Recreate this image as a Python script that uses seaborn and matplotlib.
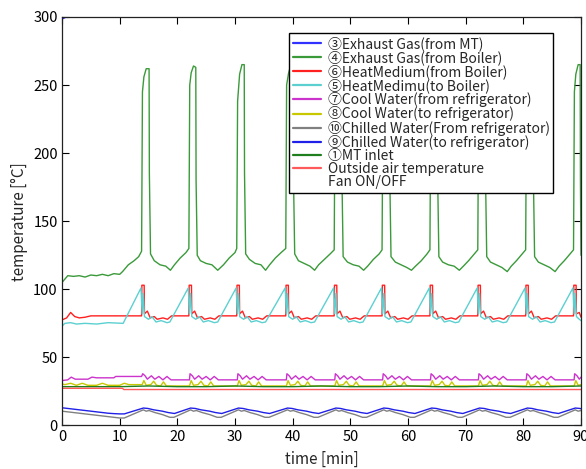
import matplotlib
matplotlib.use("Agg")
import matplotlib.pyplot as plt
from matplotlib.lines import Line2D
import seaborn as sns

# ---------------- data ----------------
labels = ["③Exhaust Gas(from MT)", "④Exhaust Gas(from Boiler)", "⑥HeatMedium(from Boiler)",
          "⑤HeatMedimu(to Boiler)", "⑦Cool Water(from refrigerator)", "⑧Cool Water(to refrigerator)",
          "⑩Chilled Water(From refrigerator)", "⑨Chilled Water(to refrigerator)", "①MT inlet",
          "Outside air temperature", "Fan ON/OFF"]
colors = ["#3030ff", "#3a9a3a", "#ff2020", "#5cd0d0", "#cc33cc", "#c8c800",
          "#808080", "#2020e8", "#1f7f1f", "#ff5a5a"]

t_exh_mt = [0, 0.5, 1.0, 2.0, 90]
v_exh_mt = [298.5, 299.5, 301, 310, 310]

t_exh_boiler = [0, 0.4, 1, 2, 3, 4, 5, 6, 7, 8, 9, 10, 10.5, 11.5, 12.5, 13.3, 13.8,
                13.95, 14.2, 14.6, 15.1, 15.15, 15.35, 16, 17, 18, 18.8, 19.5, 20.5, 21.5, 22.0,
                22.15, 22.4, 22.8, 23.2, 23.25, 23.45, 24, 25, 26, 27, 28, 29, 30, 30.3,
                30.45, 30.8, 31.2, 31.6, 31.65, 31.85, 32.5, 33.5, 34.5, 35.3, 36, 37, 38, 38.8,
                38.95, 39.3, 39.7, 40.1, 40.15, 40.35, 41, 42, 43, 43.8, 44.5, 45.5, 46.5, 47.2,
                47.35, 47.6, 48, 48.5, 48.55, 48.75, 49.5, 50.5, 51.5, 52.3, 53, 54, 55, 55.5,
                55.65, 55.9, 56.3, 56.8, 56.85, 57.05, 57.8, 58.8, 59.8, 60.6, 61.3, 62.3, 63.3, 63.8,
                63.95, 64.2, 64.6, 65.1, 65.15, 65.35, 66, 67, 68, 68.9, 69.6, 70.5, 71.5, 72.1,
                72.25, 72.5, 72.9, 73.4, 73.45, 73.65, 74.3, 75.3, 76.3, 77.2, 77.9, 78.8, 79.8, 80.4,
                80.55, 80.8, 81.2, 81.7, 81.75, 81.95, 82.6, 83.6, 84.6, 85.5, 86.2, 87.1, 88.1, 88.7,
                88.85, 89.1, 89.5, 89.85, 89.9, 90]
v_exh_boiler = [105, 107, 110, 109.5, 110, 109, 110.5, 110, 111, 110, 111.5, 111, 113, 118, 121, 124, 128,
                245, 256, 262, 262, 185, 126, 121, 118, 117, 114, 118, 123, 127, 130,
                250, 259, 264, 263, 180, 125, 121, 119, 118, 114, 118, 123, 127, 130,
                238, 258, 265, 265, 185, 126, 122, 119, 118, 114, 118, 123, 127, 130,
                250, 259, 265, 265, 180, 126, 121, 119, 117, 114, 118, 122, 126, 129,
                245, 255, 261, 261, 180, 124, 120, 118, 117, 114, 117, 122, 126, 129,
                245, 255, 259, 259, 180, 124, 120, 118, 116, 114, 117, 121, 126, 129,
                245, 255, 261, 261, 180, 124, 120, 118, 117, 114, 117, 121, 126, 129,
                245, 256, 261, 261, 180, 124, 120, 118, 116, 113, 117, 121, 126, 129,
                245, 256, 262, 262, 180, 124, 120, 118, 116, 113, 117, 121, 126, 129,
                245, 258, 265, 265, 180, 125]

t_hm_out = [0, 0.8, 1.5, 2.2, 3, 4, 5, 13.8,
            13.85, 14.25, 14.3, 14.8, 15.3, 16.0, 16.5, 17.5, 18.3, 19.0, 22.0,
            22.05, 22.45, 22.5, 23.0, 23.5, 24.2, 24.7, 25.7, 26.5, 27.2, 30.3,
            30.35, 30.75, 30.8, 31.3, 31.8, 32.5, 33.0, 34.0, 34.8, 35.5, 38.8,
            38.85, 39.25, 39.3, 39.8, 40.3, 41.0, 41.5, 42.5, 43.3, 44.0, 47.2,
            47.25, 47.65, 47.7, 48.2, 48.7, 49.4, 49.9, 50.9, 51.7, 52.4, 55.5,
            55.55, 55.95, 56.0, 56.5, 57.0, 57.7, 58.2, 59.2, 60.0, 60.7, 63.8,
            63.85, 64.25, 64.3, 64.8, 65.3, 66.0, 66.5, 67.5, 68.3, 69.0, 72.1,
            72.15, 72.55, 72.6, 73.1, 73.6, 74.3, 74.8, 75.8, 76.6, 77.3, 80.4,
            80.45, 80.85, 80.9, 81.4, 81.9, 82.6, 83.1, 84.1, 84.9, 85.6, 88.7,
            88.75, 89.15, 89.2, 89.7, 90.0]
v_hm_out = [77.5, 79, 83, 80, 79, 79.5, 80.5, 80.5,
            103, 103, 82, 84, 79, 80, 78, 79, 78, 80.5, 80.5,
            103, 103, 82, 84, 79, 80, 78, 79, 78, 80.5, 80.5,
            103, 103, 82, 84, 79, 80, 78, 79, 78, 80.5, 80.5,
            103, 103, 82, 84, 79, 80, 78, 79, 78, 80.5, 80.5,
            103, 103, 82, 84, 79, 80, 78, 79, 78, 80.5, 80.5,
            103, 103, 82, 84, 79, 80, 78, 79, 78, 80.5, 80.5,
            103, 103, 82, 84, 79, 80, 78, 79, 78, 80.5, 80.5,
            103, 103, 82, 84, 79, 80, 78, 79, 78, 80.5, 80.5,
            103, 103, 82, 84, 79, 80, 78, 79, 78, 80.5, 80.5,
            103, 103, 82, 83, 79.5]

t_hm_in = [0, 0.5, 1.5, 2.5, 4, 6, 8, 10.6,
           13.7, 13.9, 14.1, 14.3, 15.0, 15.6, 16.3, 17.2, 18.2, 18.7,
           21.9, 22.1, 22.3, 22.5, 23.2, 23.8, 24.5, 25.4, 26.4, 27.0,
           30.2, 30.4, 30.6, 30.8, 31.5, 32.1, 32.8, 33.7, 34.7, 35.3,
           38.7, 38.9, 39.1, 39.3, 40.0, 40.6, 41.3, 42.2, 43.2, 43.8,
           47.1, 47.3, 47.5, 47.7, 48.4, 49.0, 49.7, 50.6, 51.6, 52.2,
           55.4, 55.6, 55.8, 56.0, 56.7, 57.3, 58.0, 58.9, 59.9, 60.5,
           63.7, 63.9, 64.1, 64.3, 65.0, 65.6, 66.3, 67.2, 68.2, 68.8,
           72.0, 72.2, 72.4, 72.6, 73.3, 73.9, 74.6, 75.5, 76.5, 77.1,
           80.3, 80.5, 80.7, 80.9, 81.6, 82.2, 82.9, 83.8, 84.8, 85.4,
           88.6, 88.8, 89.0, 89.2, 89.7, 90.0]
v_hm_in = [73, 75, 75.5, 74.5, 75, 74.5, 75.5, 75,
           101, 82, 97, 80, 78, 80, 76, 77, 75.5, 76,
           101, 82, 97, 80, 78, 80, 76, 77, 75.5, 76,
           101, 82, 97, 80, 78, 80, 76, 77, 75.5, 76,
           101, 82, 97, 80, 78, 80, 76, 77, 75.5, 76,
           101, 82, 97, 80, 78, 80, 76, 77, 75.5, 76,
           101, 82, 97, 80, 78, 80, 76, 77, 75.5, 76,
           101, 82, 97, 80, 78, 80, 76, 77, 75.5, 76,
           101, 82, 97, 80, 78, 80, 76, 77, 75.5, 76,
           101, 82, 97, 80, 78, 80, 76, 77, 75.5, 76,
           101, 82, 97, 80, 78, 77]

t_cool_out = [0, 1, 1.6, 2.3, 4.5, 5.2, 6.0, 9.0, 9.3, 13.8,
              14.0, 14.4, 14.8, 15.5, 16.1, 16.8, 17.5, 18.2, 18.9, 22.1,
              22.2, 22.6, 23.0, 23.7, 24.3, 25.0, 25.7, 26.4, 27.1, 30.4,
              30.5, 30.9, 31.3, 32.0, 32.6, 33.3, 34.0, 34.7, 35.4, 38.9,
              39.0, 39.4, 39.8, 40.5, 41.1, 41.8, 42.5, 43.2, 43.9, 47.3,
              47.4, 47.8, 48.2, 48.9, 49.5, 50.2, 50.9, 51.6, 52.3, 55.6,
              55.7, 56.1, 56.5, 57.2, 57.8, 58.5, 59.2, 59.9, 60.6, 63.9,
              64.0, 64.4, 64.8, 65.5, 66.1, 66.8, 67.5, 68.2, 68.9, 72.2,
              72.3, 72.7, 73.1, 73.8, 74.4, 75.1, 75.8, 76.5, 77.2, 80.5,
              80.6, 81.0, 81.4, 82.1, 82.7, 83.4, 84.1, 84.8, 85.5, 88.8,
              88.9, 89.3, 89.7, 90.0]
v_cool_out = [33, 33.5, 35.5, 34, 34, 35.5, 35, 35, 36, 36,
              38, 36.5, 34, 36.5, 34, 36, 33.5, 36, 33.5, 33.5,
              38, 36.5, 34, 36.5, 34, 36, 33.5, 36, 33.5, 33.5,
              38, 36.5, 34, 36.5, 34, 36, 33.5, 36, 33.5, 33.5,
              38, 36.5, 34, 36.5, 34, 36, 33.5, 36, 33.5, 33.5,
              38, 36.5, 34, 36.5, 34, 36, 33.5, 36, 33.5, 33.5,
              38, 36.5, 34, 36.5, 34, 36, 33.5, 36, 33.5, 33.5,
              38, 36.5, 34, 36.5, 34, 36, 33.5, 36, 33.5, 33.5,
              38, 36.5, 34, 36.5, 34, 36, 33.5, 36, 33.5, 33.5,
              38, 36.5, 34, 36.5, 34, 36, 33.5, 36, 33.5, 33.5,
              38, 36.5, 34, 35.5]

t_cool_in = [0, 0.5, 1.5, 2.5, 3.5, 4.5, 6, 7, 8, 10, 10.8, 11.6, 13.9,
             14.2, 14.6, 15.4, 15.9, 16.4, 17.1, 17.6, 18.1, 22.1,
             22.4, 22.8, 23.6, 24.1, 24.6, 25.3, 25.8, 26.3, 30.4,
             30.7, 31.1, 31.9, 32.4, 32.9, 33.6, 34.1, 34.6, 38.9,
             39.2, 39.6, 40.4, 40.9, 41.4, 42.1, 42.6, 43.1, 47.3,
             47.6, 48.0, 48.8, 49.3, 49.8, 50.5, 51.0, 51.5, 55.6,
             55.9, 56.3, 57.1, 57.6, 58.1, 58.8, 59.3, 59.8, 63.9,
             64.2, 64.6, 65.4, 65.9, 66.4, 67.1, 67.6, 68.1, 72.2,
             72.5, 72.9, 73.7, 74.2, 74.7, 75.4, 75.9, 76.4, 80.5,
             80.8, 81.2, 82.0, 82.5, 83.0, 83.7, 84.2, 84.7, 88.8,
             89.1, 89.5, 90.0]
v_cool_in = [30.5, 30, 31, 29.5, 31, 29.5, 29.5, 31, 29.5, 29.5, 31, 30, 30,
             33, 29.5, 30, 32.5, 29.5, 29, 32, 29, 29,
             33, 29.5, 30, 32.5, 29.5, 29, 32, 29, 29,
             33, 29.5, 30, 32.5, 29.5, 29, 32, 29, 29,
             33, 29.5, 30, 32.5, 29.5, 29, 32, 29, 29,
             33, 29.5, 30, 32.5, 29.5, 29, 32, 29, 29,
             33, 29.5, 30, 32.5, 29.5, 29, 32, 29, 29,
             33, 29.5, 30, 32.5, 29.5, 29, 32, 29, 29,
             33, 29.5, 30, 32.5, 29.5, 29, 32, 29, 29,
             33, 29.5, 30, 32.5, 29.5, 29, 32, 29, 29,
             33, 29.5, 30]

t_chill_out = [0, 1, 2, 3, 4, 5, 6, 7, 8, 9, 10, 10.8,
               14.1, 14.6, 15.1, 16.1, 17.4, 18.7, 19.4,
               22.3, 22.8, 23.3, 24.3, 25.6, 26.9, 27.6,
               30.6, 31.1, 31.6, 32.6, 33.9, 35.2, 35.9,
               39.1, 39.6, 40.1, 41.1, 42.4, 43.7, 44.4,
               47.5, 48.0, 48.5, 49.5, 50.8, 52.1, 52.8,
               55.8, 56.3, 56.8, 57.8, 59.1, 60.4, 61.1,
               64.1, 64.6, 65.1, 66.1, 67.4, 68.7, 69.4,
               72.4, 72.9, 73.4, 74.4, 75.7, 77.0, 77.7,
               80.7, 81.2, 81.7, 82.7, 84.0, 85.3, 86.0,
               89.0, 89.5, 90.0]
v_chill_out = [10.5, 10, 9.5, 9, 8.5, 8, 7.5, 7, 6.5, 6, 5.5, 5.5,
               11.5, 10.5, 11, 9.5, 8, 6, 6,
               11.5, 10.5, 11, 9.5, 8, 6, 6,
               11.5, 10.5, 11, 9.5, 8, 6, 6,
               11.5, 10.5, 11, 9.5, 8, 6, 6,
               11.5, 10.5, 11, 9.5, 8, 6, 6,
               11.5, 10.5, 11, 9.5, 8, 6, 6,
               11.5, 10.5, 11, 9.5, 8, 6, 6,
               11.5, 10.5, 11, 9.5, 8, 6, 6,
               11.5, 10.5, 11, 9.5, 8, 6, 6,
               11.5, 10.5, 11]

t_chill_in = [0, 1, 2, 3, 4, 5, 6, 7, 8, 9, 10, 10.8,
              14.1, 14.9, 15.9, 17.4, 18.4, 19.5,
              22.3, 23.1, 24.1, 25.6, 26.6, 27.7,
              30.6, 31.4, 32.4, 33.9, 34.9, 36.0,
              39.1, 39.9, 40.9, 42.4, 43.4, 44.5,
              47.5, 48.3, 49.3, 50.8, 51.8, 52.9,
              55.8, 56.6, 57.6, 59.1, 60.1, 61.2,
              64.1, 64.9, 65.9, 67.4, 68.4, 69.5,
              72.4, 73.2, 74.2, 75.7, 76.7, 77.8,
              80.7, 81.5, 82.5, 84.0, 85.0, 86.1,
              89.0, 89.8, 90.0]
v_chill_in = [13, 12.5, 12, 11.5, 11, 10.5, 10, 9.5, 9, 8.7, 8.5, 8.5,
              12.8, 12.5, 11.5, 10.5, 9.5, 8.8,
              12.8, 12.5, 11.5, 10.5, 9.5, 8.8,
              12.8, 12.5, 11.5, 10.5, 9.5, 8.8,
              12.8, 12.5, 11.5, 10.5, 9.5, 8.8,
              12.8, 12.5, 11.5, 10.5, 9.5, 8.8,
              12.8, 12.5, 11.5, 10.5, 9.5, 8.8,
              12.8, 12.5, 11.5, 10.5, 9.5, 8.8,
              12.8, 12.5, 11.5, 10.5, 9.5, 8.8,
              12.8, 12.5, 11.5, 10.5, 9.5, 8.8,
              12.8, 12.5, 12.3]

t_mt_inlet = [0, 5, 10, 15, 20, 25, 30, 35, 40, 45, 50, 55, 60, 65, 70, 75, 80, 85, 90]
v_mt_inlet = [28.5, 28.5, 28.5, 29, 28.5, 28.5, 29, 28.5, 28.5, 29, 28.5, 28.5, 29, 28.5, 28.5, 29, 28.5, 28.5, 29]

t_outside = [0, 10.5, 10.7, 90]
v_outside = [27.3, 27.3, 26.4, 26.4]

series = [(t_exh_mt, v_exh_mt), (t_exh_boiler, v_exh_boiler), (t_hm_out, v_hm_out),
          (t_hm_in, v_hm_in), (t_cool_out, v_cool_out), (t_cool_in, v_cool_in),
          (t_chill_out, v_chill_out), (t_chill_in, v_chill_in), (t_mt_inlet, v_mt_inlet),
          (t_outside, v_outside)]

x_ticks = [0, 10, 20, 30, 40, 50, 60, 70, 80, 90]
y_ticks = [0, 50, 100, 150, 200, 250, 300]

# ---------------- plot ----------------
sns.set_theme(style="ticks")
plt.rcParams["font.family"] = ["Noto Sans CJK JP", "DejaVu Sans"]
plt.rcParams["axes.unicode_minus"] = False

fig = plt.figure(figsize=(5.86, 4.69), dpi=100)
ax = fig.add_axes([0.1058, 0.0928, 0.8857, 0.871])

for (t, v), lab, col in zip(series, labels[:-1], colors):
    sns.lineplot(x=t, y=v, ax=ax, color=col, label=lab, linewidth=1.0,
                 estimator=None, sort=False)

ax.set_xlim(0, 90)
ax.set_ylim(0, 300)
ax.set_xticks(x_ticks)
ax.set_yticks(y_ticks)
ax.tick_params(direction="in", length=5, width=0.8, top=True, right=True,
               labelsize=10.5, colors="black", pad=3)
for s in ax.spines.values():
    s.set_linewidth(0.9)
    s.set_color("#222222")
ax.set_xlabel("time [min]", fontsize=11, labelpad=5)
ax.set_ylabel("temperature [°C]", fontsize=11, labelpad=4)

handles, labs = ax.get_legend_handles_labels()
handles.append(Line2D([], [], linestyle="none"))
labs.append(labels[-1])
leg = ax.legend(handles, labs, loc="upper right", bbox_to_anchor=(0.946, 0.961),
                frameon=True, fancybox=False, edgecolor="black", framealpha=1,
                fontsize=10, handlelength=2.0, handletextpad=0.5, labelspacing=-0.06,
                borderpad=0.25, borderaxespad=0)
leg.get_frame().set_linewidth(1.0)
for ln in leg.get_lines():
    ln.set_linewidth(1.6)

fig.savefig("out.png", dpi=100, facecolor="white")
